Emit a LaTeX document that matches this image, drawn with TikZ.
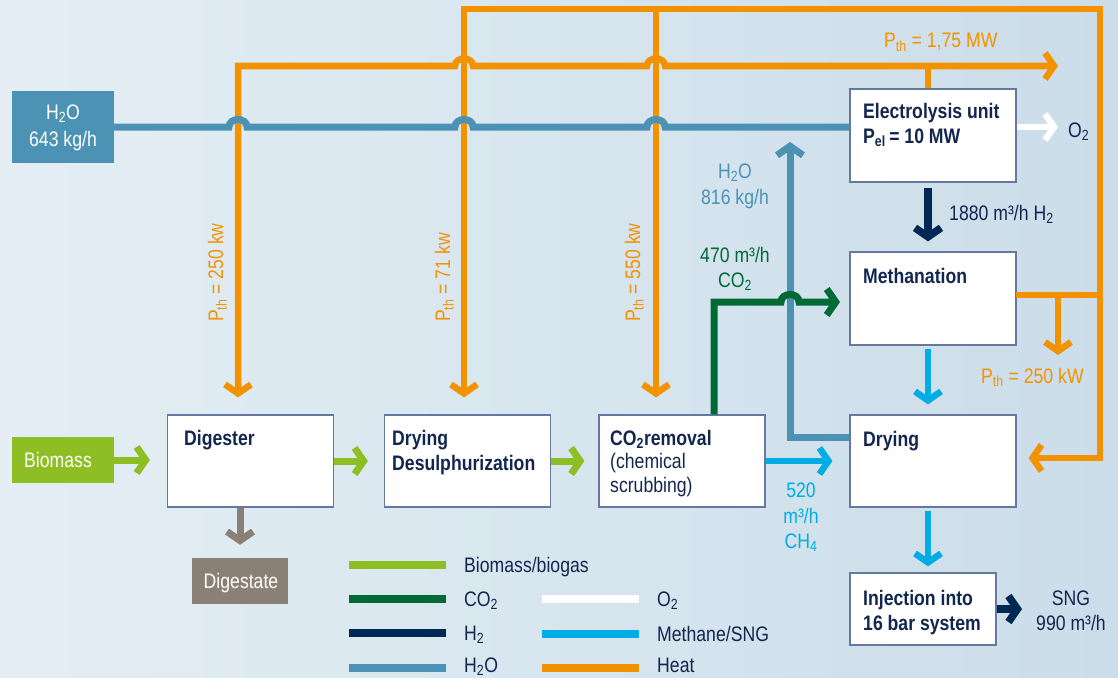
\documentclass[tikz,border=0pt]{standalone}
\usepackage{fontspec}
\setmainfont{Liberation Sans}[FakeStretch=0.84]
\usetikzlibrary{arrows.meta}
\definecolor{heatc}{RGB}{243,146,0}
\definecolor{waterc}{RGB}{76,146,180}
\definecolor{methc}{RGB}{0,172,228}
\definecolor{h2c}{RGB}{0,40,85}
\definecolor{co2c}{RGB}{0,106,52}
\definecolor{bioc}{RGB}{141,190,36}
\definecolor{digc}{RGB}{139,128,117}
\definecolor{navyt}{RGB}{18,38,80}
\definecolor{boxb}{RGB}{100,120,160}
\definecolor{bgl}{RGB}{228,238,244}
\definecolor{bgr}{RGB}{203,221,233}
\newcommand\subs[1]{\textsubscript{#1}}
\tikzset{
  chev/.style={-{Straight Barb[length=9pt,width=26pt]}},
  heat/.style={draw=heatc,line width=6.5pt},
  water/.style={draw=waterc,line width=7pt},
  meth/.style={draw=methc,line width=6.5pt},
  hyd/.style={draw=h2c,line width=7.5pt},
  co2/.style={draw=co2c,line width=7pt},
  bio/.style={draw=bioc,line width=7pt},
  oxy/.style={draw=white,line width=6.5pt},
  dig/.style={draw=digc,line width=7pt},
  procbox/.style={draw=boxb,line width=1.2pt,fill=white,minimum width=166pt,minimum height=92pt,inner sep=0pt},
  srcbox/.style={minimum width=102pt,inner sep=0pt},
  txt/.style={inner sep=0pt,font=\fontsize{21}{25}\selectfont},
  blbl/.style={txt,anchor=base west,text=navyt,font=\fontsize{21}{25}\selectfont\bfseries},
  lgline/.style={line width=7.5pt},
}
\begin{document}
\begin{tikzpicture}[x=1pt,y=-1pt]
\useasboundingbox (0,0) rectangle (1118,677);
\shade[left color=bgl,right color=bgr] (0,0) rectangle (1118,677);

% ---------- boxes ----------
\node[srcbox,fill=waterc,minimum height=72pt] (h2o) at (63,127) {};
\node[srcbox,fill=bioc,minimum height=46pt] (biomass) at (63,460) {};
\node[procbox] (digester) at (250.5,461) {};
\node[procbox] (drydes) at (467.5,461) {};
\node[procbox] (co2rem) at (682,461) {};
\node[procbox,minimum height=93pt] (electro) at (933,135.5) {};
\node[procbox,minimum height=93pt] (methan) at (933,298.5) {};
\node[procbox] (drying) at (933,461) {};
\node[procbox,minimum width=146pt,minimum height=72pt] (inject) at (923,609) {};
\node[minimum width=96pt,minimum height=46pt,inner sep=0pt,fill=digc] (digestate) at (240,581) {};

% ---------- coordinates ----------
\coordinate (hA) at (238,66);
\coordinate (hB) at (464,9);
\coordinate (hC) at (656,9);
\coordinate (hR) at (1100,9);
\coordinate (hE) at (1058,66);
\coordinate (hD) at (1100,458);
\coordinate (hF) at (928,66);
\coordinate (hM) at (1016,295);
\coordinate (hM2) at (1100,295);
\coordinate (hK) at (1058,295);
\coordinate (hK2) at (1058,355);
\coordinate (wY) at (790,437);
\coordinate (wT) at (790,142);
\coordinate (gX) at (714,302);
\coordinate (gE) at (840,302);
\coordinate (vx) at (928,0);
\coordinate (oE) at (1058,127);
\coordinate (sE) at (1022,609);

% ---------- heat ----------
\draw[heat,{Straight Barb[length=9pt,width=26pt]}-{Straight Barb[length=9pt,width=26pt]},shorten <=17pt]
  (digester.north -| hA) -- (hA) -- (455,66) .. controls (455,56) and (473,56) .. (473,66)
  -- (647,66) .. controls (647,56) and (665,56) .. (665,66) -- (hE);
\draw[heat,{Straight Barb[length=9pt,width=26pt]}-{Straight Barb[length=9pt,width=26pt]},shorten <=17pt,shorten >=12pt]
  (drydes.north -| hB) -- (hB) -- (hR) -- (hD) -- (drying.east |- hD);
\draw[heat,chev,shorten >=17pt] (hC) -- (co2rem.north -| hC);
\draw[heat] (hF) -- (electro.north -| hF);
\draw[heat] (hM) -- (hM2);
\draw[heat,chev] (hK) -- (hK2);

% ---------- water ----------
\draw[water] (h2o.east) -- (229,127) .. controls (229,117) and (247,117) .. (247,127)
  -- (455,127) .. controls (455,117) and (473,117) .. (473,127)
  -- (647,127) .. controls (647,117) and (665,117) .. (665,127) -- (h2o.east -| electro.west);
\draw[water,chev] (drying.west |- wY) -- (wY) -- (wT);

% ---------- CO2 ----------
\draw[co2,chev] (co2rem.north -| gX) -- (gX) -- (781,302) .. controls (781,292) and (799,292) .. (799,302) -- (gE);

% ---------- methane / H2 / O2 ----------
\draw[meth,chev,shorten >=17pt] (co2rem.east) -- (co2rem.east -| drying.west);
\draw[meth,chev,shorten <=3pt,shorten >=10pt] (methan.south -| vx) -- (drying.north -| vx);
\draw[meth,chev,shorten <=3pt,shorten >=6pt] (drying.south -| vx) -- (inject.north -| vx);
\draw[hyd,chev,shorten <=5pt,shorten >=10pt] (electro.south -| vx) -- (methan.north -| vx);
\draw[oxy,chev] (electro.east |- h2o.east) -- (oE);
\draw[hyd,chev] (inject.east) -- (sE);

% ---------- biomass ----------
\draw[bio,chev,shorten >=17pt] (biomass.east) -- (digester.west |- biomass.east);
\draw[bio,chev,shorten >=16pt] (digester.east) -- (drydes.west);
\draw[bio,chev,shorten >=14pt] (drydes.east) -- (co2rem.west);
\draw[dig,chev,shorten >=13pt] (digester.south -| digestate.north) -- (digestate.north);

% ---------- box labels ----------
\node[txt,text=white,anchor=base] (t1) at (63,119) {H\subs{2}O};
\node[txt,text=white,anchor=base] (t2) at (63,146) {643 kg/h};
\node[txt,text=white,anchor=base west] (t3) at (24,467) {Biomass};
\node[txt,text=white,anchor=base] (t4) at (241,588) {Digestate};
\node[blbl] (t5) at (184,445) {Digester};
\node[blbl] (t6) at (392,445) {Drying};
\node[blbl] (t7) at (392,470) {Desulphurization};
\node[blbl] (t8) at (610,445) {CO\subs{2}removal};
\node[txt,anchor=base west,text=navyt] (t9) at (610,468) {(chemical};
\node[txt,anchor=base west,text=navyt] (t10) at (610,492) {scrubbing)};
\node[blbl] (t11) at (863,118) {Electrolysis unit};
\node[blbl] (t12) at (863,143) {P\subs{el}\,= 10 MW};
\node[blbl] (t13) at (863,283) {Methanation};
\node[blbl] (t14) at (863,446) {Drying};
\node[blbl] (t15) at (863,605) {Injection into};
\node[blbl] (t16) at (863,630) {16 bar system};

% ---------- flow labels ----------
\node[txt,text=heatc,anchor=base west,rotate=90] (p1) at (223,322) {P\subs{th} = 250 kw};
\node[txt,text=heatc,anchor=base west,rotate=90] (p2) at (450,322) {P\subs{th} = 71 kw};
\node[txt,text=heatc,anchor=base west,rotate=90] (p3) at (640,322) {P\subs{th} = 550 kw};
\node[txt,text=heatc,anchor=base west] (p4) at (884,48) {P\subs{th} = 1,75 MW};
\node[txt,text=heatc,anchor=base west] (p5) at (981,383) {P\subs{th} = 250 kW};
\node[txt,text=navyt,anchor=base west] (l1) at (949,220) {1880 m³/h H\subs{2}};
\node[txt,text=navyt,anchor=base west] (l2) at (1068,137) {O\subs{2}};
\node[txt,text=waterc,anchor=base] (l3) at (735,178) {H\subs{2}O};
\node[txt,text=waterc,anchor=base] (l4) at (735,204) {816 kg/h};
\node[txt,text=co2c,anchor=base] (l5) at (735,262) {470 m³/h};
\node[txt,text=co2c,anchor=base] (l6) at (735,287) {CO\subs{2}};
\node[txt,text=methc,anchor=base] (l7) at (801,497) {520};
\node[txt,text=methc,anchor=base] (l8) at (801,523) {m³/h};
\node[txt,text=methc,anchor=base] (l9) at (801,548) {CH\subs{4}};
\node[txt,text=navyt,anchor=base] (l10) at (1071,605) {SNG};
\node[txt,text=navyt,anchor=base] (l11) at (1071,630) {990 m³/h};

% ---------- legend ----------
\coordinate (la1) at (349,565); \coordinate (lb1) at (446,565);
\coordinate (la2) at (349,599); \coordinate (lb2) at (446,599);
\coordinate (la3) at (349,633); \coordinate (lb3) at (446,633);
\coordinate (la4) at (349,668); \coordinate (lb4) at (446,668);
\coordinate (ra1) at (542,599); \coordinate (rb1) at (639,599);
\coordinate (ra2) at (542,634); \coordinate (rb2) at (639,634);
\coordinate (ra3) at (542,668); \coordinate (rb3) at (639,668);
\draw[lgline,bioc] (la1) -- (lb1);
\draw[lgline,co2c] (la2) -- (lb2);
\draw[lgline,h2c] (la3) -- (lb3);
\draw[lgline,waterc] (la4) -- (lb4);
\draw[lgline,white] (ra1) -- (rb1);
\draw[lgline,methc] (ra2) -- (rb2);
\draw[lgline,heatc] (ra3) -- (rb3);
\node[txt,text=navyt,anchor=base west] (g1) at (464,572) {Biomass/biogas};
\node[txt,text=navyt,anchor=base west] (g2) at (464,606) {CO\subs{2}};
\node[txt,text=navyt,anchor=base west] (g3) at (464,640) {H\subs{2}};
\node[txt,text=navyt,anchor=base west] (g4) at (464,672) {H\subs{2}O};
\node[txt,text=navyt,anchor=base west] (g5) at (657,606) {O\subs{2}};
\node[txt,text=navyt,anchor=base west] (g6) at (657,641) {Methane/SNG};
\node[txt,text=navyt,anchor=base west] (g7) at (657,672) {Heat};
\end{tikzpicture}
\end{document}
